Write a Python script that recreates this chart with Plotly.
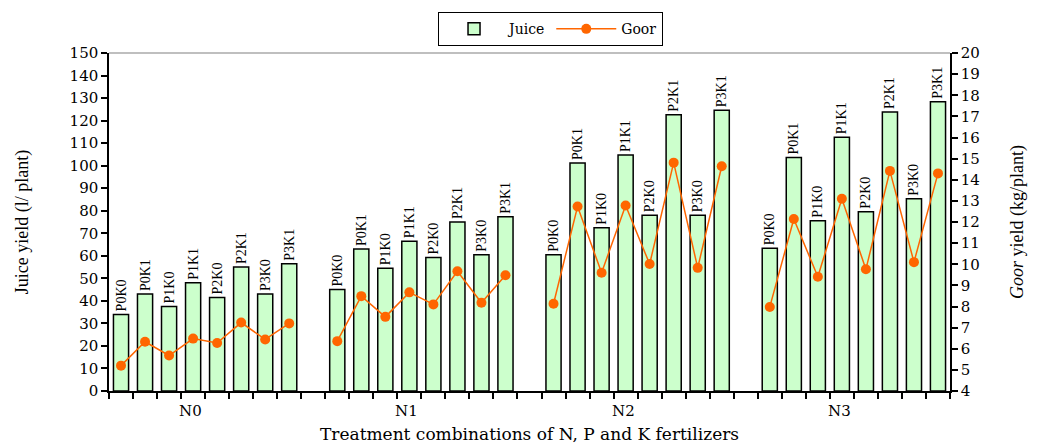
import plotly.graph_objects as go

groups = ["N0", "N1", "N2", "N3"]
treatments = ["P0K0", "P0K1", "P1K0", "P1K1", "P2K0", "P2K1", "P3K0", "P3K1"]

juice_N0 = [34, 43, 37.5, 48, 41.5, 55, 43, 56.5]
juice_N1 = [45, 63, 54.5, 66.5, 59.2, 75, 60.5, 77.3]
juice_N2 = [60.5, 101.2, 72.4, 104.7, 78, 122.6, 78, 124.6]
juice_N3 = [63.3, 103.6, 75.6, 112.6, 79.6, 123.8, 85.3, 128.4]

goor_N0 = [5.2, 6.33, 5.68, 6.48, 6.27, 7.24, 6.44, 7.2]
goor_N1 = [6.36, 8.49, 7.51, 8.67, 8.10, 9.67, 8.18, 9.48]
goor_N2 = [8.13, 12.73, 9.60, 12.78, 10.01, 14.81, 9.83, 14.64]
goor_N3 = [7.98, 12.14, 9.41, 13.10, 9.76, 14.42, 10.10, 14.30]

juice = [juice_N0, juice_N1, juice_N2, juice_N3]
goor = [goor_N0, goor_N1, goor_N2, goor_N3]

slot = len(treatments) + 1
bx, by, bt, gx, gy = [], [], [], [], []
for gi in range(len(groups)):
    for ti, t in enumerate(treatments):
        x = gi * slot + ti
        bx.append(x)
        by.append(juice[gi][ti])
        bt.append(t)
        gx.append(x)
        gy.append(goor[gi][ti])
    if gi < len(groups) - 1:
        gx.append(gi * slot + len(treatments))
        gy.append(None)

nslots = len(groups) * slot - 1

fig = go.Figure()
fig.add_trace(go.Bar(
    x=bx, y=by, text=bt, name="Juice",
    textposition="outside", textangle=-90, constraintext="none",
    textfont=dict(family="Liberation Serif", size=14, color="black"),
    marker=dict(color="#CCFFCC", line=dict(color="black", width=1.5)),
    width=0.63, cliponaxis=False,
))
fig.add_trace(go.Scatter(
    x=gx, y=gy, name="Goor", yaxis="y2", mode="lines+markers",
    connectgaps=False,
    line=dict(color="#FF6600", width=1.5),
    marker=dict(color="#FF6600", size=10),
))

for gi, g in enumerate(groups):
    fig.add_annotation(
        x=gi * slot + 2.9, y=0, xref="x", yref="paper", yshift=-20,
        text=g, showarrow=False, yanchor="middle",
        font=dict(family="DejaVu Serif", size=15, color="black"),
    )

fig.add_annotation(
    x=0.5, y=0, xref="paper", yref="paper", yshift=-43,
    text="Treatment combinations of N, P and K fertilizers", showarrow=False,
    yanchor="middle", font=dict(family="DejaVu Serif", size=17, color="black"),
)

fig.add_shape(type="line", xref="paper", yref="paper", x0=0, x1=1, y0=1, y1=1,
              line=dict(color="#AAAAAA", width=1.5))

tick_font = dict(family="DejaVu Serif", size=15, color="black")
fig.update_layout(
    width=1038, height=446,
    margin=dict(l=109, r=88, t=45, b=55),
    plot_bgcolor="white", paper_bgcolor="white",
    showlegend=True,
    legend=dict(orientation="h", x=0.525, xanchor="center", y=1.02, yanchor="bottom",
                bordercolor="black", borderwidth=1,
                font=dict(family="DejaVu Serif", size=14, color="black"),
                traceorder="normal", itemwidth=60),
    xaxis=dict(range=[-0.5, nslots - 0.5], tickmode="array",
               tickvals=[k - 0.5 for k in range(nslots + 1)],
               ticktext=[""] * (nslots + 1),
               ticks="outside", ticklen=6, tickwidth=1.5, tickcolor="black",
               showline=True, linecolor="black", linewidth=1.5,
               showgrid=False, zeroline=False, automargin=False),
    yaxis=dict(range=[0, 150], dtick=10, ticks="outside", ticklen=6, tickwidth=1.5,
               tickcolor="black", showline=True, linecolor="black", linewidth=1.5,
               showgrid=False, zeroline=False, tickfont=tick_font, automargin=False,
               title=dict(text="Juice yield (l/ plant)",
                          font=dict(family="Liberation Serif", size=18, color="black"),
                          standoff=36)),
    yaxis2=dict(range=[4, 20], dtick=1, overlaying="y", side="right",
                ticks="outside", ticklen=6, tickwidth=1.5, tickcolor="black",
                showline=True, linecolor="black", linewidth=1.5,
                showgrid=False, zeroline=False, tickfont=tick_font, automargin=False,
                title=dict(text="<i>Goor</i> yield (kg/plant)",
                           font=dict(family="Liberation Serif", size=18, color="black"),
                           standoff=32)),
    bargap=0.37,
)

fig.write_html("out.html", config={"displayModeBar": False},
               post_script="document.body.style.margin='0';")
